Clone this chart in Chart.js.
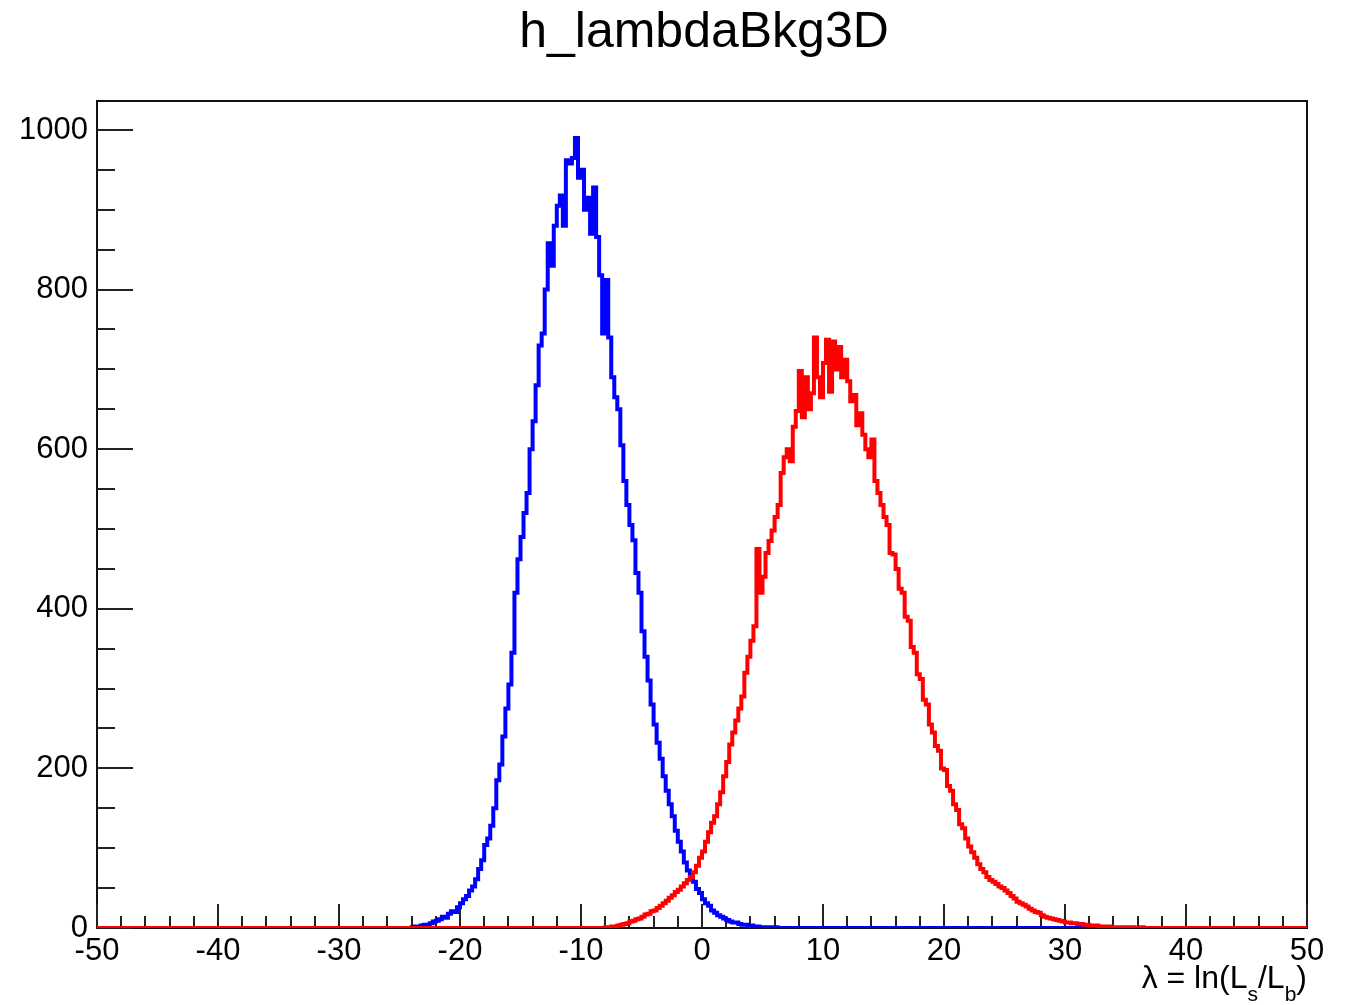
<!DOCTYPE html>
<html>
<head>
<meta charset="utf-8">
<script src="https://cdn.jsdelivr.net/npm/chart.js@4/dist/chart.umd.min.js"></script>
<style>
  html, body { margin: 0; padding: 0; background: #ffffff; }
  #wrap { width: 1351px; height: 1005px; }
  canvas { display: block; }
</style>
</head>
<body>
<div id="wrap"><canvas id="c" width="1351" height="1005"></canvas></div>
<script>
// ---- histogram definition (ROOT-style, 400 bins from -50 to 50) ----
const histLow = -50;
const histHigh = 50;
const binWidth = 0.25;

// blue histogram: bin contents starting at lower edge blueStart
const blueStart = -24;
const blueCounts = [
  1, 2, 1, 3,       4, 3, 6, 8,        9, 11, 14, 13,     18, 21, 20, 26,
  31, 36, 40, 47,   52, 61, 74, 85,    104, 112, 128, 150, 185, 205, 240, 275,
  305, 345, 420, 462, 490, 520, 545, 600, 635, 680, 730, 745, 800, 858, 830, 880,
  905, 918, 880, 962, 958, 965, 990, 940, 950, 900, 915, 870, 928, 866, 818, 745,
  812, 740, 690, 665, 650, 605, 560, 530, 505, 486, 445, 420, 372, 340, 310, 280,
  255, 232, 212, 190, 172, 155, 140, 122, 108, 96, 82, 72,  64, 58, 49, 44,
  36, 31, 28, 22,   19, 16, 14, 12,    10, 8, 7, 7,       5, 4, 4, 3,
  3, 2, 2, 1,       1, 1, 1, 0,        1, 0, 0, 0,        0, 0, 0, 0
];

// red histogram: bin contents starting at lower edge redStart
const redStart = -8;
const redCounts = [
  1, 1, 2, 2,       3, 4, 5, 6,        8, 9, 11, 12,      14, 17, 18, 21,
  22, 25, 28, 31,   34, 38, 41, 45,    48, 52, 56, 60,    64, 70, 78, 88,
  96, 108, 120, 132, 140, 155, 170, 190, 208, 230, 245, 260, 275, 290, 320, 340,
  360, 378, 475, 420, 440, 470, 485, 498, 515, 530, 570, 590, 600, 585, 628, 648,
  698, 640, 690, 650, 670, 740, 690, 665, 708, 737, 672, 735, 700, 728, 690, 712,
  685, 660, 668, 630, 645, 618, 600, 590, 612, 560, 545, 530, 515, 505, 470, 468,
  450, 425, 420, 390, 385, 352, 345, 318, 312, 286, 280, 255, 245, 228, 222, 200,
  198, 178, 172, 155, 148, 130, 125, 112, 102, 95, 88, 80,  74, 70, 64, 60,
  58, 55, 52, 50,   47, 44, 40, 37,    33, 31, 29, 27,    24, 22, 20, 19,
  16, 14, 13, 12,   11, 10, 9, 8,      7, 7, 6, 6,        5, 5, 4, 4,
  3, 3, 3, 2,       2, 2, 2, 1,        1, 1, 1, 1,        1, 0, 1, 0,
  0, 1, 0, 0,       0, 0, 0, 0
];

// axis ticks
const xTicks = [-50, -40, -30, -20, -10, 0, 10, 20, 30, 40, 50];
const yTicks = [0, 200, 400, 600, 800, 1000];
const xMinorStep = 2;
const yMinorStep = 50;
const yMax = 1036.3;

const titleText = 'h_lambdaBkg3D';

// build step points (lower bin edges + final upper edge) from the arrays
function histPoints(start, counts) {
  const nBins = Math.round((histHigh - histLow) / binWidth);
  const offset = Math.round((start - histLow) / binWidth);
  const pts = [];
  let last = 0;
  for (let i = 0; i < nBins; i++) {
    const k = i - offset;
    const v = (k >= 0 && k < counts.length) ? counts[k] : 0;
    pts.push({ x: histLow + i * binWidth, y: v });
    last = v;
  }
  pts.push({ x: histHigh, y: last });
  return pts;
}

const FONT = '"Liberation Sans", Arial, Helvetica, sans-serif';

const decor = {
  id: 'decor',
  beforeDatasetsDraw(chart) {
    const ctx = chart.ctx;
    const a = chart.chartArea;
    const xs = chart.scales.x, ys = chart.scales.y;
    ctx.save();
    ctx.strokeStyle = '#111';
    ctx.lineWidth = 2;
    ctx.strokeRect(a.left, a.top, a.right - a.left, a.bottom - a.top);
    ctx.lineWidth = 2;
    ctx.strokeStyle = '#222';
    ctx.beginPath();
    // y ticks
    for (let v = 0; v <= yMax; v += yMinorStep) {
      const py = Math.round(ys.getPixelForValue(v));
      const major = yTicks.includes(v);
      ctx.moveTo(a.left, py);
      ctx.lineTo(a.left + (major ? 36 : 18), py);
    }
    // x ticks
    for (let v = histLow; v <= histHigh; v += xMinorStep) {
      const px = Math.round(xs.getPixelForValue(v));
      const major = xTicks.includes(v);
      ctx.moveTo(px, a.bottom);
      ctx.lineTo(px, a.bottom - (major ? 24 : 12));
    }
    ctx.stroke();
    ctx.restore();
  },
  afterDraw(chart) {
    const ctx = chart.ctx;
    const a = chart.chartArea;
    ctx.save();
    ctx.fillStyle = '#000';
    // title
    ctx.font = '50px ' + FONT;
    ctx.textAlign = 'center';
    ctx.textBaseline = 'alphabetic';
    ctx.fillText(titleText, (a.left + a.right) / 2 + 2, 47);
    // x axis title: λ = ln(L_s/L_b), right aligned
    const big = '32px ' + FONT, small = '21px ' + FONT;
    const parts = [
      { t: 'λ = ln(L', f: big, dy: 0 },
      { t: 's', f: small, dy: 13 },
      { t: '/L', f: big, dy: 0 },
      { t: 'b', f: small, dy: 13 },
      { t: ')', f: big, dy: 0 }
    ];
    let total = 0;
    parts.forEach(p => { ctx.font = p.f; p.w = ctx.measureText(p.t).width; total += p.w; });
    let x = a.right - total;
    const base = 988;
    ctx.textAlign = 'left';
    parts.forEach(p => { ctx.font = p.f; ctx.fillText(p.t, x, base + p.dy); x += p.w; });
    ctx.restore();
  }
};

const chart = new Chart(document.getElementById('c'), {
  type: 'line',
  data: {
    datasets: [
      {
        label: 'red',
        data: histPoints(redStart, redCounts),
        borderColor: '#ff0000',
        borderWidth: 4,
        pointRadius: 0,
        stepped: 'before',
        fill: false,
        tension: 0
      },
      {
        label: 'blue',
        data: histPoints(blueStart, blueCounts),
        borderColor: '#0000ff',
        borderWidth: 4,
        pointRadius: 0,
        stepped: 'before',
        fill: false,
        tension: 0
      }
    ]
  },
  options: {
    responsive: false,
    animation: false,
    events: [],
    layout: { padding: { top: 101, right: 44, left: 0, bottom: 0 } },
    plugins: { legend: { display: false }, tooltip: { enabled: false }, title: { display: false } },
    scales: {
      x: {
        type: 'linear',
        min: histLow,
        max: histHigh,
        grid: { display: false, drawTicks: false },
        border: { display: false },
        ticks: {
          color: '#000',
          font: { family: FONT, size: 31 },
          padding: 5,
          maxRotation: 0,
          autoSkip: false,
          callback: v => String(v)
        },
        afterBuildTicks: s => { s.ticks = xTicks.map(v => ({ value: v })); },
        afterFit: s => { s.height = 77; }
      },
      y: {
        type: 'linear',
        min: 0,
        max: yMax,
        grid: { display: false, drawTicks: false },
        border: { display: false },
        ticks: {
          color: '#000',
          font: { family: FONT, size: 31 },
          padding: 9,
          callback: v => String(v)
        },
        afterBuildTicks: s => { s.ticks = yTicks.map(v => ({ value: v })); },
        afterFit: s => { s.width = 97; }
      }
    }
  },
  plugins: [decor]
});
</script>
</body>
</html>
